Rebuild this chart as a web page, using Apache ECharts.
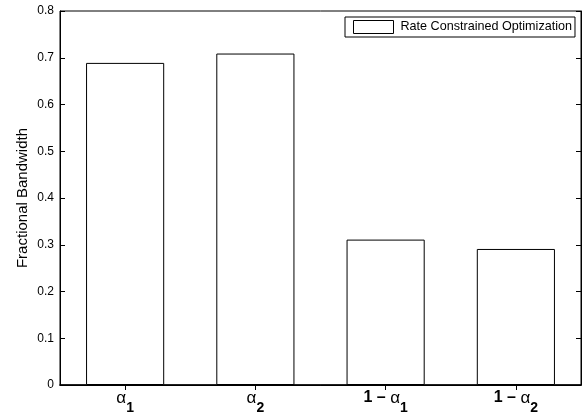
<!DOCTYPE html>
<html>
<head>
<meta charset="utf-8">
<script src="https://cdn.jsdelivr.net/npm/echarts@6/dist/echarts.min.js"></script>
<style>
html,body{margin:0;padding:0;background:#fff;}
#c{width:586px;height:412px;}
</style>
</head>
<body>
<div id="c"></div>
<script>
// Data
const categories = ['α_1', 'α_2', '1 – α_1', '1 – α_2'];
const seriesName = 'Rate Constrained Optimization';
const values = [0.689, 0.709, 0.311, 0.291];
const yTicks = [0, 0.1, 0.2, 0.3, 0.4, 0.5, 0.6, 0.7, 0.8];
const yAxisTitle = 'Fractional Bandwidth';

const FONT = '"Liberation Sans", Arial, Helvetica, sans-serif';
const chart = echarts.init(document.getElementById('c'), null, {renderer: 'canvas'});

function catFormatter(v) {
  const parts = v.split('_');
  const main = parts[0];
  const sub = parts[1] || '';
  if (main.indexOf('1') === 0) {
    return '{b|1 – }{a|α}{s|' + sub + '}';
  }
  return '{a|' + main + '}{s|' + sub + '}';
}

const option = {
  animation: false,
  backgroundColor: '#fff',
  textStyle: {fontFamily: FONT},
  grid: {left: 60, right: 5, top: 11, bottom: 27, show: true, borderColor: '#000', borderWidth: 1, backgroundColor: 'transparent', containLabel: false, outerBoundsMode: 'none'},
  legend: {
    show: true,
    data: [seriesName],
    left: 345,
    top: 17,
    orient: 'horizontal',
    backgroundColor: '#fff',
    borderColor: '#000',
    borderWidth: 1,
    borderRadius: 0,
    padding: [3, 3, 3, 8],
    itemWidth: 40,
    itemHeight: 13,
    itemGap: 0,
    textStyle: {fontSize: 12.6, color: '#000', fontFamily: FONT, padding: [0, 0, 0, 2]},
    icon: 'rect',
    itemStyle: {color: '#fff', borderColor: '#000', borderWidth: 1}
  },
  xAxis: [
    {
      type: 'category',
      data: categories,
      position: 'bottom',
      axisLine: {show: true, lineStyle: {color: '#000', width: 1.5}},
      axisTick: {show: true, inside: true, length: 5, alignWithLabel: true, lineStyle: {color: '#000'}},
      axisLabel: {
        margin: 5,
        color: '#000',
        formatter: catFormatter,
        rich: {
          a: {fontSize: 17, fontFamily: FONT, color: '#000', verticalAlign: 'top'},
          b: {fontSize: 16, fontWeight: 'bold', fontFamily: FONT, color: '#000', verticalAlign: 'top'},
          s: {fontSize: 14, fontWeight: 'bold', fontFamily: FONT, color: '#000', padding: [11, 0, 0, 0], verticalAlign: 'top'}
        }
      },
      splitLine: {show: false}
    },
    {
      type: 'category',
      data: categories,
      position: 'top',
      axisLine: {show: true, lineStyle: {color: '#000'}},
      axisTick: {show: true, inside: true, length: 5, alignWithLabel: true, lineStyle: {color: '#000'}},
      axisLabel: {show: false},
      splitLine: {show: false}
    }
  ],
  yAxis: [
    {
      type: 'value',
      min: yTicks[0],
      max: yTicks[yTicks.length - 1],
      interval: 0.1,
      position: 'left',
      name: yAxisTitle,
      nameLocation: 'middle',
      nameGap: 30,
      nameMoveOverlap: false,
      nameTextStyle: {fontSize: 15, color: '#000', fontFamily: FONT},
      axisLine: {show: true, lineStyle: {color: '#000'}},
      axisTick: {show: true, inside: true, length: 5, lineStyle: {color: '#000'}},
      axisLabel: {fontSize: 12, color: '#000', margin: 6, formatter: v => String(Math.round(v * 10) / 10)},
      splitLine: {show: false}
    },
    {
      type: 'value',
      min: yTicks[0],
      max: yTicks[yTicks.length - 1],
      interval: 0.1,
      position: 'right',
      axisLine: {show: true, lineStyle: {color: '#000'}},
      axisTick: {show: true, inside: true, length: 5, lineStyle: {color: '#000'}},
      axisLabel: {show: false},
      splitLine: {show: false}
    }
  ],
  series: [
    {
      name: seriesName,
      type: 'bar',
      data: values,
      barWidth: '60%',
      xAxisIndex: 0,
      yAxisIndex: 0,
      itemStyle: {color: '#fff', borderColor: '#000', borderWidth: 1}
    }
  ]
};
chart.setOption(option);
</script>
</body>
</html>
